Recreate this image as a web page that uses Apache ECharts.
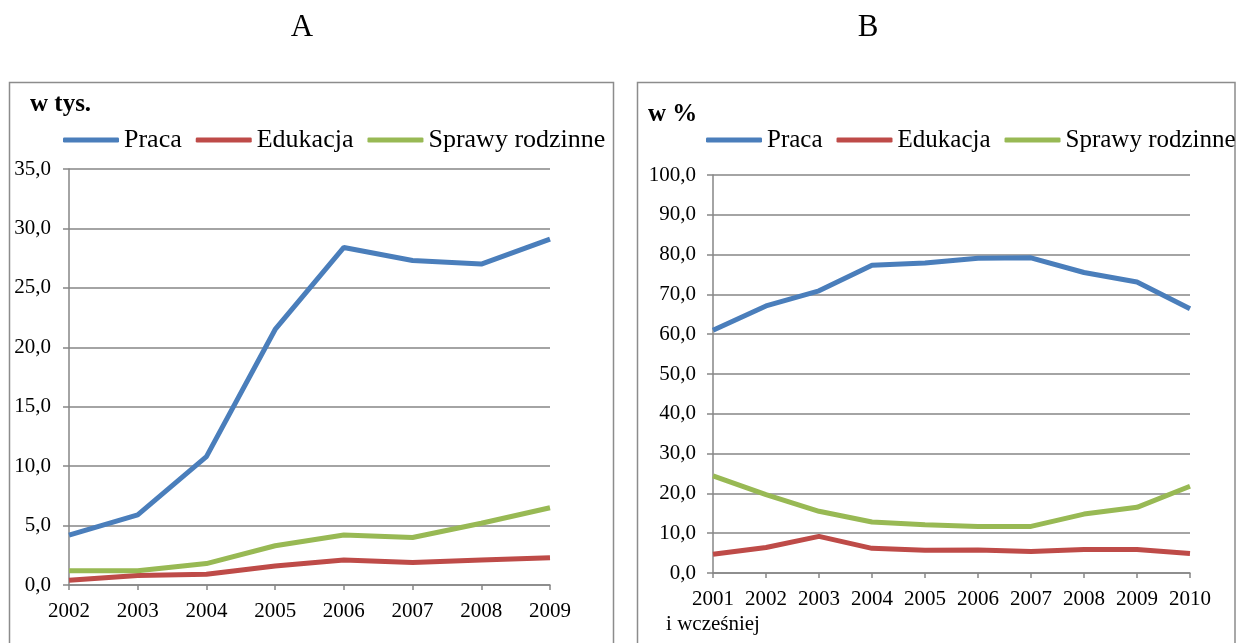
<!DOCTYPE html>
<html>
<head>
<meta charset="utf-8">
<script src="https://cdn.jsdelivr.net/npm/echarts@6/dist/echarts.min.js"></script>
<style>
html,body{margin:0;padding:0;background:#fff;}
#chart{width:1237px;height:643px;}
</style>
</head>
<body>
<div id="chart"></div>
<script>
// ---- data ----
var yearsA = ['2002','2003','2004','2005','2006','2007','2008','2009'];
var pracaA = [4.2, 5.9, 10.8, 21.5, 28.4, 27.3, 27.0, 29.1];
var edukacjaA = [0.4, 0.8, 0.9, 1.6, 2.1, 1.9, 2.1, 2.3];
var rodzinneA = [1.2, 1.2, 1.8, 3.3, 4.2, 4.0, 5.2, 6.5];

var yearsB = ['2001\ni wcześniej','2002','2003','2004','2005','2006','2007','2008','2009','2010'];
var pracaB = [61.0, 67.1, 70.9, 77.3, 77.9, 79.1, 79.2, 75.5, 73.1, 66.4];
var edukacjaB = [4.7, 6.4, 9.2, 6.2, 5.7, 5.8, 5.4, 5.9, 5.9, 4.9];
var rodzinneB = [24.4, 19.7, 15.5, 12.8, 12.1, 11.7, 11.7, 14.8, 16.5, 21.8];

var seriesNames = ['Praca','Edukacja','Sprawy rodzinne'];
var colors = ['#4A7EBB','#BE4B48','#98B954'];
var titleA = 'A', titleB = 'B';
var unitA = 'w tys.', unitB = 'w %';

var FONT = "'Liberation Serif','Times New Roman',serif";
var GRAY = '#868686';
function fmt(v){ return v.toFixed(1).replace('.', ','); }

function legend(left, size){
  return {
    left: left, top: 125, padding: 0, itemGap: 14,
    itemWidth: 56, itemHeight: 5, icon: 'roundRect',
    data: seriesNames,
    textStyle: {fontFamily: FONT, fontSize: size, color: '#000', lineHeight: 30}
  };
}
function xAxis(grid, data){
  return {
    type: 'category', gridIndex: grid, data: data, boundaryGap: false,
    axisLine: {lineStyle: {color: GRAY, width: 1.5}},
    axisTick: {show: true, length: 5, lineStyle: {color: GRAY, width: 1.5}},
    axisLabel: {fontFamily: FONT, fontSize: 21, color: '#000', margin: 14, lineHeight: 25, interval: 0},
    splitLine: {show: false}
  };
}
function yAxis(grid, max, interval, margin){
  return {
    type: 'value', gridIndex: grid, min: 0, max: max, interval: interval,
    axisLine: {show: true, lineStyle: {color: GRAY, width: 1.5}},
    axisTick: {show: true, length: 6, lineStyle: {color: GRAY, width: 1.5}},
    axisLabel: {fontFamily: FONT, fontSize: 21, color: '#000', margin: margin, formatter: fmt},
    splitLine: {show: true, lineStyle: {color: GRAY, width: 1.5}}
  };
}
function line(name, data, idx, color){
  return {
    type: 'line', name: name, data: data, xAxisIndex: idx, yAxisIndex: idx,
    symbol: 'none', smooth: false,
    lineStyle: {color: color, width: 5},
    itemStyle: {color: color}
  };
}

var chart = echarts.init(document.getElementById('chart'), null, {renderer: 'canvas'});
chart.setOption({
  animation: false,
  backgroundColor: '#fff',
  color: colors,
  graphic: [
    {type: 'text', x: 302, y: 28, silent: true,
     style: {text: titleA, fontFamily: FONT, fontSize: 31, fill: '#000', align: 'center', verticalAlign: 'middle'}},
    {type: 'text', x: 868, y: 28, silent: true,
     style: {text: titleB, fontFamily: FONT, fontSize: 31, fill: '#000', align: 'center', verticalAlign: 'middle'}},
    {type: 'rect', shape: {x: 9.5, y: 82.5, width: 604, height: 620}, silent: true,
     style: {fill: 'none', stroke: '#8c8c8c', lineWidth: 1.5}},
    {type: 'rect', shape: {x: 637.5, y: 82.5, width: 597.5, height: 620}, silent: true,
     style: {fill: 'none', stroke: '#8c8c8c', lineWidth: 1.5}},
    {type: 'text', left: 30, top: 92, silent: true,
     style: {text: unitA, fontFamily: FONT, fontSize: 25, fontWeight: 'bold', fill: '#000'}},
    {type: 'text', left: 648, top: 102, silent: true,
     style: {text: unitB, fontFamily: FONT, fontSize: 25, fontWeight: 'bold', fill: '#000'}}
  ],
  legend: [legend(63, 26), legend(706, 25)],
  grid: [
    {left: 69, right: 687, top: 169, bottom: 58},
    {left: 713, right: 47, top: 175, bottom: 70}
  ],
  xAxis: [xAxis(0, yearsA), xAxis(1, yearsB)],
  yAxis: [yAxis(0, 35, 5, 18), yAxis(1, 100, 10, 17)],
  series: [
    line(seriesNames[0], pracaA, 0, colors[0]),
    line(seriesNames[1], edukacjaA, 0, colors[1]),
    line(seriesNames[2], rodzinneA, 0, colors[2]),
    line(seriesNames[0], pracaB, 1, colors[0]),
    line(seriesNames[1], edukacjaB, 1, colors[1]),
    line(seriesNames[2], rodzinneB, 1, colors[2])
  ]
});
</script>
</body>
</html>
